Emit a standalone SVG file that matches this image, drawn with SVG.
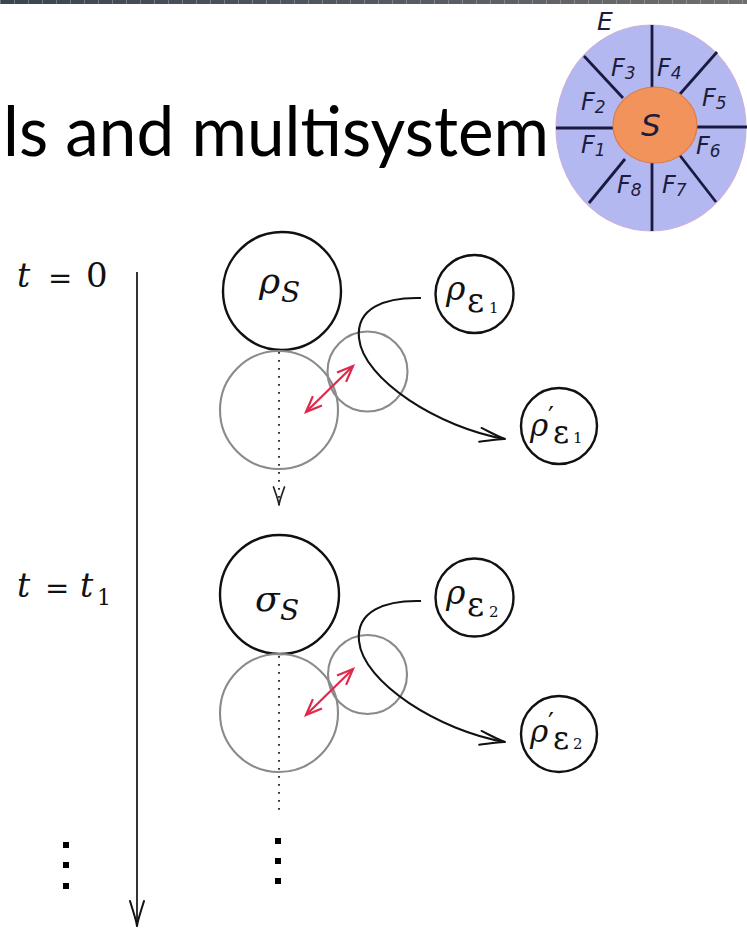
<svg xmlns="http://www.w3.org/2000/svg" width="747" height="930" viewBox="0 0 747 930">
<defs>
<linearGradient id="bar" x1="0" x2="1" y1="0" y2="0"><stop offset="0" stop-color="#3a4452"/><stop offset="1" stop-color="#6e6e6e"/></linearGradient>
<marker id="to" markerUnits="userSpaceOnUse" viewBox="-27 -10 29 20" refX="0" refY="0" markerWidth="29" markerHeight="20" orient="auto" overflow="visible">
<path d="M-25,-7 C-15,-4 -6,-0.8 0,0 M-25,7 C-15,4 -6,0.8 0,0" fill="none" stroke="#111" stroke-width="2" stroke-linecap="round"/>
</marker>
<marker id="toS" markerUnits="userSpaceOnUse" viewBox="-20 -8 22 16" refX="0" refY="0" markerWidth="22" markerHeight="16" orient="auto" overflow="visible">
<path d="M-18,-5.5 C-11,-3 -5,-0.6 0,0 M-18,5.5 C-11,3 -5,0.6 0,0" fill="none" stroke="#222" stroke-width="1.7" stroke-linecap="round"/>
</marker>
<marker id="rEnd" markerUnits="userSpaceOnUse" viewBox="-18 -9 20 18" refX="0" refY="0" markerWidth="20" markerHeight="18" orient="auto" overflow="visible">
<path d="M-16,-6.5 L0,0 L-16,6.5" fill="none" stroke="#e0284a" stroke-width="2.2"/>
</marker>
<marker id="rStart" markerUnits="userSpaceOnUse" viewBox="-2 -9 20 18" refX="0" refY="0" markerWidth="20" markerHeight="18" orient="auto" overflow="visible">
<path d="M16,-6.5 L0,0 L16,6.5" fill="none" stroke="#e0284a" stroke-width="2.2"/>
</marker>
</defs>
<style>
.bk{fill:none;stroke:#111;stroke-width:2.4}
.gr{fill:none;stroke:#8a8a8a;stroke-width:2.1}
.m{font-family:"DejaVu Serif","Liberation Serif",serif;fill:#111}
.it{font-style:italic}
.lab{font-family:"DejaVu Sans","Liberation Sans",sans-serif;font-style:italic;fill:#1c1c3c}
.spoke{stroke:#1a1a40;stroke-width:2.8}
.dot{stroke:#333;stroke-width:2;stroke-dasharray:1.8 6.2;fill:none}
.cv{fill:none;stroke:#111;stroke-width:2.1}
.red{stroke:#e0284a;stroke-width:2.2;fill:none}
.sq{fill:#000}
</style>
<rect width="747" height="930" fill="#fff"/>
<g id="topbar">
<rect x="0" y="0" width="747" height="4" fill="url(#bar)"/>
<line x1="0" y1="2" x2="747" y2="2" stroke="#fff" stroke-opacity="0.25" stroke-width="4" stroke-dasharray="1 13"/>
</g>
<g id="title">
<text x="3" y="156" font-family="Lato, 'Open Sans', sans-serif" font-size="70" fill="#000" textLength="546" lengthAdjust="spacingAndGlyphs">ls and multisystem</text>
</g>
<g id="env-diagram">
<ellipse cx="651" cy="128" rx="95" ry="103" fill="#b4b8f0" stroke="#c8b0dc" stroke-width="1.2"/>
<g class="spoke">
<line x1="652" y1="25" x2="652" y2="88"/>
<line x1="652" y1="163" x2="652" y2="231"/>
<line x1="556" y1="128" x2="613" y2="128"/>
<line x1="697" y1="127" x2="747" y2="127"/>
<line x1="584" y1="56" x2="623" y2="98"/>
<line x1="717" y1="52" x2="680" y2="94"/>
<line x1="589" y1="203" x2="625" y2="159"/>
<line x1="716" y1="202" x2="678" y2="153"/>
</g>
<ellipse id="S-node" cx="655" cy="125" rx="42" ry="38" fill="#f2935c" stroke="#e07a45" stroke-width="1.2"/>
<text class="lab" x="641" y="136" font-size="31">S</text>
<text class="lab" x="597" y="30" font-size="25">E</text>
<text class="lab" font-size="24"><tspan x="611" y="76">F</tspan><tspan font-size="17" y="79">3</tspan></text>
<text class="lab" font-size="24"><tspan x="657" y="76">F</tspan><tspan font-size="17" y="79">4</tspan></text>
<text class="lab" font-size="24"><tspan x="581" y="110">F</tspan><tspan font-size="17" y="113">2</tspan></text>
<text class="lab" font-size="24"><tspan x="702" y="106">F</tspan><tspan font-size="17" y="109">5</tspan></text>
<text class="lab" font-size="24"><tspan x="581" y="153">F</tspan><tspan font-size="17" y="156">1</tspan></text>
<text class="lab" font-size="24"><tspan x="696" y="154">F</tspan><tspan font-size="17" y="157">6</tspan></text>
<text class="lab" font-size="24"><tspan x="617" y="193">F</tspan><tspan font-size="17" y="196">8</tspan></text>
<text class="lab" font-size="24"><tspan x="662" y="193">F</tspan><tspan font-size="17" y="196">7</tspan></text>
</g>
<g id="time-labels">
<text class="m" font-size="33"><tspan class="it" x="17" y="287">t</tspan><tspan x="48" y="288" font-size="29">=</tspan><tspan x="86" y="287" font-size="34">0</tspan></text>
<text class="m" font-size="33"><tspan class="it" x="17" y="597">t</tspan><tspan x="45" y="598" font-size="29">=</tspan><tspan class="it" x="80" y="597">t</tspan><tspan x="97" y="605" font-size="22">1</tspan></text>
</g>
<g id="node-rhoS">
<circle class="bk" cx="282" cy="291" r="59"/>
<text class="m"><tspan class="it" x="259" y="293" font-size="36">ρ</tspan><tspan class="it" x="281" y="302" font-size="28">S</tspan></text>
</g>
<g id="node-rhoS-bath">
<circle class="gr" cx="279" cy="410" r="59"/>
<circle class="gr" cx="367.5" cy="371.5" r="40"/>
</g>
<g id="node-rhoE1">
<circle class="bk" cx="474.5" cy="294" r="39"/>
<text class="m"><tspan class="it" x="446" y="300" font-size="33">ρ</tspan><tspan x="467" y="312" font-size="33">ε</tspan><tspan x="489" y="313" font-size="15">1</tspan></text>
</g>
<g id="node-rhoE1p">
<circle class="bk" cx="559" cy="426" r="38"/>
<text class="m"><tspan class="it" x="530" y="436" font-size="31">ρ</tspan><tspan x="548" y="425" font-size="26">′</tspan><tspan x="553" y="443" font-size="31">ε</tspan><tspan x="573" y="443" font-size="15">1</tspan></text>
</g>
<g id="node-sigmaS">
<circle class="bk" cx="279.5" cy="594.5" r="59.5"/>
<text class="m"><tspan class="it" x="255" y="611" font-size="36">σ</tspan><tspan class="it" x="280" y="620" font-size="28">S</tspan></text>
</g>
<g id="node-sigmaS-bath">
<circle class="gr" cx="279" cy="713" r="59"/>
<circle class="gr" cx="367.5" cy="674.5" r="39.5"/>
</g>
<g id="node-rhoE2">
<circle class="bk" cx="474.5" cy="597.5" r="39"/>
<text class="m"><tspan class="it" x="446" y="604" font-size="33">ρ</tspan><tspan x="467" y="616" font-size="33">ε</tspan><tspan x="489" y="617" font-size="15">2</tspan></text>
</g>
<g id="node-rhoE2p">
<circle class="bk" cx="559" cy="734" r="38"/>
<text class="m"><tspan class="it" x="530" y="742" font-size="31">ρ</tspan><tspan x="548" y="731" font-size="26">′</tspan><tspan x="553" y="749" font-size="31">ε</tspan><tspan x="573" y="749" font-size="15">2</tspan></text>
</g>
<g id="ellipsis-dots">
<rect class="sq" x="275" y="838" width="6" height="6"/>
<rect class="sq" x="275" y="858" width="6" height="6"/>
<rect class="sq" x="275" y="878" width="6" height="6"/>
<rect class="sq" x="63" y="842" width="6" height="6"/>
<rect class="sq" x="63" y="862" width="6" height="6"/>
<rect class="sq" x="63" y="883" width="6" height="6"/>
</g>
<g id="connectors">
<line x1="137" y1="272" x2="137" y2="926" stroke="#111" stroke-width="1.7" marker-end="url(#to)"/>
<path class="dot" d="M279,352 L279,505" marker-end="url(#toS)"/>
<path class="dot" d="M279,656 L279,815"/>
<path class="cv" d="M421,298 C385,297 356,308 359,338 C363,380 440,428 505,439" marker-end="url(#to)"/>
<path class="cv" d="M421,601 C385,600 356,611 359,641 C363,683 440,731 505,742" marker-end="url(#to)"/>
<path class="red" d="M306,412 L353,366" marker-start="url(#rStart)" marker-end="url(#rEnd)"/>
<path class="red" d="M306,715 L353,669" marker-start="url(#rStart)" marker-end="url(#rEnd)"/>
</g>
</svg>
